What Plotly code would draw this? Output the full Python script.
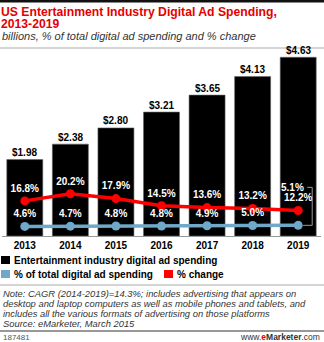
import plotly.graph_objects as go

# Data
years = ["2013", "2014", "2015", "2016", "2017", "2018", "2019"]
spending = [1.98, 2.38, 2.80, 3.21, 3.65, 4.13, 4.63]          # billions
share_pct = [4.6, 4.7, 4.8, 4.8, 4.9, 5.0, 5.1]                 # % of total digital ad spending
change_pct = [16.8, 20.2, 17.9, 14.5, 13.6, 13.2, 12.2]         # % change

title_1 = "US Entertainment Industry Digital Ad Spending,"
title_2 = "2013-2019"
subtitle = "billions, % of total digital ad spending and % change"
legend_labels = ["Entertainment industry digital ad spending",
                 "% of total digital ad spending", "% change"]
note_lines = [
    "Note: CAGR (2014-2019)=14.3%; includes advertising that appears on",
    "desktop and laptop computers as well as mobile phones and tablets, and",
    "includes all the various formats of advertising on those platforms",
    "Source: eMarketer, March 2015",
]
chart_id = "187481"

RED = "#ff0000"
BLUE = "#6fa8c8"
FONT = "Liberation Sans"

W, H = 324, 342
M = dict(l=2, r=3, t=48, b=106)
PW = W - M["l"] - M["r"]
PH = H - M["t"] - M["b"]


def px(x):
    return (x - M["l"]) / PW


def py(y):
    return (H - M["b"] - y) / PH


fig = go.Figure()

fig.add_trace(go.Bar(
    x=years, y=spending,
    marker=dict(color="#000000", line=dict(color="#666666", width=0.6)),
    yaxis="y",
    showlegend=False,
))

fig.add_trace(go.Scatter(
    x=years, y=change_pct,
    mode="lines+markers+text",
    line=dict(color=RED, width=3.5),
    marker=dict(color=RED, size=9),
    text=[f"{v:.1f}%" for v in change_pct],
    textposition="top center",
    textfont=dict(family=FONT, size=10, color="#ffffff", weight="bold"),
    yaxis="y2",
    cliponaxis=False,
    showlegend=False,
))

share_text = [f"{v:.1f}%" for v in share_pct[:-1]] + [""]
fig.add_trace(go.Scatter(
    x=years, y=share_pct,
    mode="lines+markers+text",
    line=dict(color=BLUE, width=3.5),
    marker=dict(color=BLUE, size=9),
    text=share_text,
    textposition="top center",
    textfont=dict(family=FONT, size=10, color="#ffffff", weight="bold"),
    yaxis="y2",
    cliponaxis=False,
    showlegend=False,
))

annotations = []
shapes = []

# dollar labels just above each bar (category index used as x position)
for i, v in enumerate(spending):
    annotations.append(dict(
        x=i, y=v, xref="x", yref="y", text=f"${v:.2f}", showarrow=False,
        xanchor="center", yanchor="middle", yshift=7,
        font=dict(family=FONT, size=10, color="#000000", weight="bold"),
    ))

# last share value sits above the % change label, tied back with a bracket
last = len(years) - 1
annotations.append(dict(
    x=last, y=share_pct[-1], xref="x", yref="y2",
    text=f"{share_pct[-1]:.1f}%", showarrow=False,
    xanchor="right", yanchor="middle", xshift=8, yshift=38,
    font=dict(family=FONT, size=10, color="#ffffff", weight="bold"),
))
shapes.append(dict(
    type="path", xref="x", yref="y2",
    xsizemode="pixel", ysizemode="pixel",
    xanchor=last, yanchor=share_pct[-1],
    path="M 5 0 L 14 0 L 14 38 L 9 38",
    line=dict(color="#999999", width=1),
))

# Titles
annotations += [
    dict(x=px(0), y=py(11.5), xref="paper", yref="paper", text=title_1,
         showarrow=False, xanchor="left", yanchor="middle", borderpad=0,
         font=dict(family=FONT, size=12.2, color="#e50000", weight="bold")),
    dict(x=px(0), y=py(24), xref="paper", yref="paper", text=title_2,
         showarrow=False, xanchor="left", yanchor="middle", borderpad=0,
         font=dict(family=FONT, size=12.2, color="#e50000", weight="bold")),
    dict(x=px(0), y=py(35.5), xref="paper", yref="paper",
         text=f"<i>{subtitle}</i>",
         showarrow=False, xanchor="left", yanchor="middle",
         font=dict(family=FONT, size=11, color="#333333")),
]

# Legend
legend_items = [
    (legend_labels[0], "#000000", 1, 260),
    (legend_labels[1], BLUE, 1, 274),
    (legend_labels[2], RED, 164, 274),
]
for label, color, x0, yc in legend_items:
    shapes.append(dict(type="rect", xref="paper", yref="paper",
                       x0=px(x0), x1=px(x0 + 9), y0=py(yc + 4), y1=py(yc - 4),
                       fillcolor=color, line=dict(width=0)))
    annotations.append(dict(x=px(x0 + 11), y=py(yc), xref="paper", yref="paper",
                            text=label, showarrow=False, xanchor="left",
                            yanchor="middle",
                            font=dict(family=FONT, size=10, color="#000000",
                                      weight="bold")))

# Note and source
for i, line in enumerate(note_lines):
    annotations.append(dict(x=px(1), y=py(293 + 10 * i), xref="paper", yref="paper",
                            text=f"<i>{line}</i>", showarrow=False,
                            xanchor="left", yanchor="middle",
                            font=dict(family=FONT, size=9.4, color="#333333")))

annotations += [
    dict(x=px(1), y=py(337), xref="paper", yref="paper", text=chart_id,
         showarrow=False, xanchor="left", yanchor="middle",
         font=dict(family=FONT, size=8, color="#555555")),
    dict(x=px(322), y=py(337), xref="paper", yref="paper",
         text="www.<span style='color:#e50000'><b>e</b></span><b>Marketer</b>.com",
         showarrow=False, xanchor="right", yanchor="middle",
         font=dict(family=FONT, size=8.5, color="#333333")),
]

# Rules
for yy, color, width in [(1, "#111111", 3), (48, "#aaaaaa", 1),
                         (285, "#aaaaaa", 1), (331, "#333333", 1.2)]:
    shapes.append(dict(type="line", xref="paper", yref="paper",
                       x0=px(0), x1=px(W), y0=py(yy), y1=py(yy),
                       line=dict(color=color, width=width)))

fig.update_layout(
    width=W, height=H,
    margin=M,
    paper_bgcolor="#ffffff",
    plot_bgcolor="#ffffff",
    bargap=0.21,
    xaxis=dict(type="category", showgrid=False, zeroline=False,
               range=[-0.5, len(years) - 0.5],
               showline=True, linecolor="#999999", linewidth=1, ticks="",
               tickfont=dict(family=FONT, size=10, color="#000000", weight="bold")),
    yaxis=dict(visible=False, range=[0, PH / 38.6], fixedrange=True),
    yaxis2=dict(visible=False, overlaying="y", range=[0, PH / 2.09], fixedrange=True),
    annotations=annotations,
    shapes=shapes,
    showlegend=False,
)

fig.write_html("out.html")
